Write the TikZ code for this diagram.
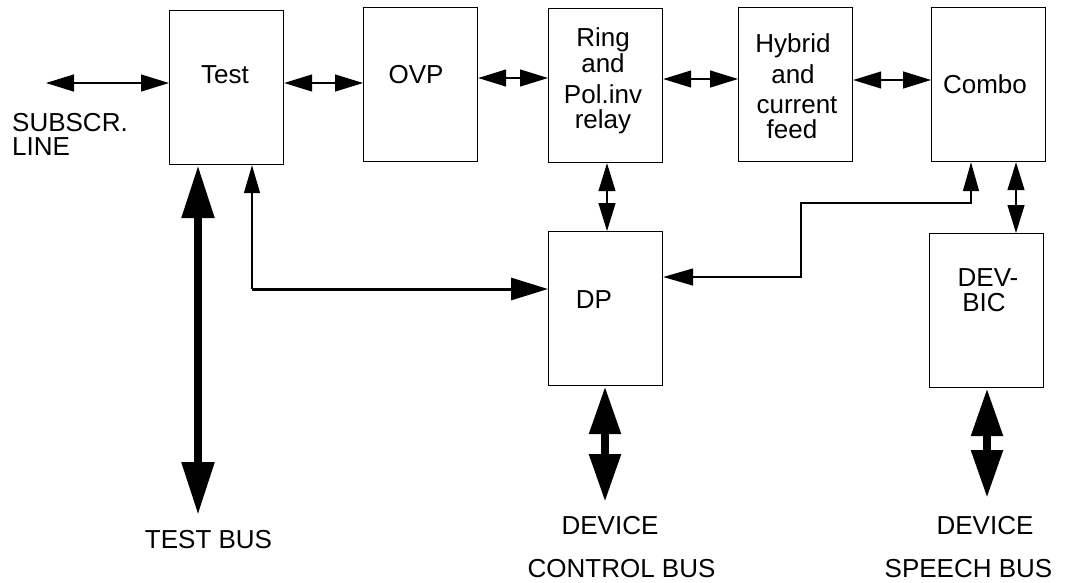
\documentclass[tikz,border=0pt]{standalone}
\usepackage{fontspec}
\setmainfont{Liberation Sans}
\usetikzlibrary{arrows.meta}
\tikzset{
  box/.style={draw, line width=1.2pt, inner sep=0pt, minimum width=114pt, minimum height=154pt, anchor=north west},
  txt/.style={font=\fontsize{26}{26}\selectfont, inner sep=0pt, anchor=base},
  ltxt/.style={txt, anchor=base west, text height=18.5pt, text depth=0pt},
  thinarr/.style={line width=1.2pt, {Triangle[length=28pt,width=17pt]}-{Triangle[length=28pt,width=17pt]}},
  thinone/.style={line width=1.2pt, -{Triangle[length=28pt,width=16pt]}},
  midone/.style={line width=3pt, -{Triangle[length=37pt,width=22pt]}},
  busarr/.style={line width=8.5pt, {Triangle[length=48pt,width=30pt]}-{Triangle[length=48pt,width=30pt]}},
  testbus/.style={line width=8.5pt, {Triangle[length=53pt,width=31pt]}-{Triangle[length=53pt,width=31pt]}},
  linkarr/.style={line width=1.5pt, {Triangle[length=30pt,width=17pt]}-{Triangle[length=29pt,width=16pt]}}
}
\begin{document}
\begin{tikzpicture}[x=1pt,y=-1pt]
\useasboundingbox (0,0) rectangle (1065,582);
% boxes
\node[box] (test) at (169,10) {};
\node[box] (ovp) at (363,7) {};
\node[box] (ring) at (548,8) {};
\node[box] (hybrid) at (738,7) {};
\node[box] (combo) at (931,7) {};
\node[box] (dp) at (548,231) {};
\node[box] (devbic) at (929,233) {};
% texts
\node[txt] (ttest) at (225,83) {Test};
\node[txt] (tovp) at (416,83) {OVP};
\node[txt] (tring1) at (603,46) {Ring};
\node[txt] (tring2) at (603,72) {and};
\node[txt] (tring3) at (603,103) {Pol.inv};
\node[txt] (tring4) at (603,128) {relay};
\node[txt] (thyb1) at (793,52) {Hybrid};
\node[txt] (thyb2) at (793,83) {and};
\node[txt] (thyb3) at (797,113) {current};
\node[txt] (thyb4) at (792,138) {feed};
\node[txt] (tcombo) at (985,93) {Combo};
\node[txt] (tdp) at (594,308) {DP};
\node[txt] (tdev1) at (988,286) {DEV-};
\node[txt] (tdev2) at (984,311) {BIC};
\node[ltxt] (tsub1) at (12,131) {SUBSCR.};
\node[ltxt] (tsub2) at (12,155) {LINE};
\node[txt] (ttb) at (208.5,548) {TEST BUS};
\node[txt] (tdc1) at (610,534) {DEVICE};
\node[txt] (tdc2) at (621.5,577) {CONTROL BUS};
\node[txt] (tds1) at (985,534) {DEVICE};
\node[txt] (tds2) at (968.5,577) {SPEECH BUS};
% coordinates
\coordinate (sl) at (46,83);
\coordinate (fb) at (252,289);
\coordinate (tb) at (198,515);
\coordinate (cb) at (605,502);
\coordinate (sb) at (987,498);
\coordinate (k1) at (801,277);
\coordinate (k2) at (801,203);
\coordinate (k3) at (971,203);
% connectors
\draw[thinarr] (sl) -- (sl -| test.west);
\draw[thinarr] (test.east |- 0,83) -- (ovp.west |- 0,83);
\draw[thinarr] (ovp.east |- 0,78) -- (ring.west |- 0,78);
\draw[thinarr] (ring.east |- 0,79) -- (hybrid.west |- 0,79);
\draw[thinarr] (hybrid.east |- 0,80) -- (combo.west |- 0,80);
\draw[thinarr] (ring.south -| 607,0) -- (dp.north -| 607,0);
\draw[thinarr] (combo.south -| 1016,0) -- (devbic.north -| 1016,0);
\draw[thinone] (fb) -- (fb |- test.south);
\draw[midone] (fb) -- (fb -| dp.west);
\draw[linkarr] (k1 -| dp.east) -- (k1) -- (k2) -- (k3) -- (k3 |- combo.south);
\draw[testbus] (test.south -| tb) -- (tb);
\draw[busarr] (dp.south -| cb) -- (cb);
\draw[busarr] (devbic.south -| sb) -- (sb);
\end{tikzpicture}
\end{document}
